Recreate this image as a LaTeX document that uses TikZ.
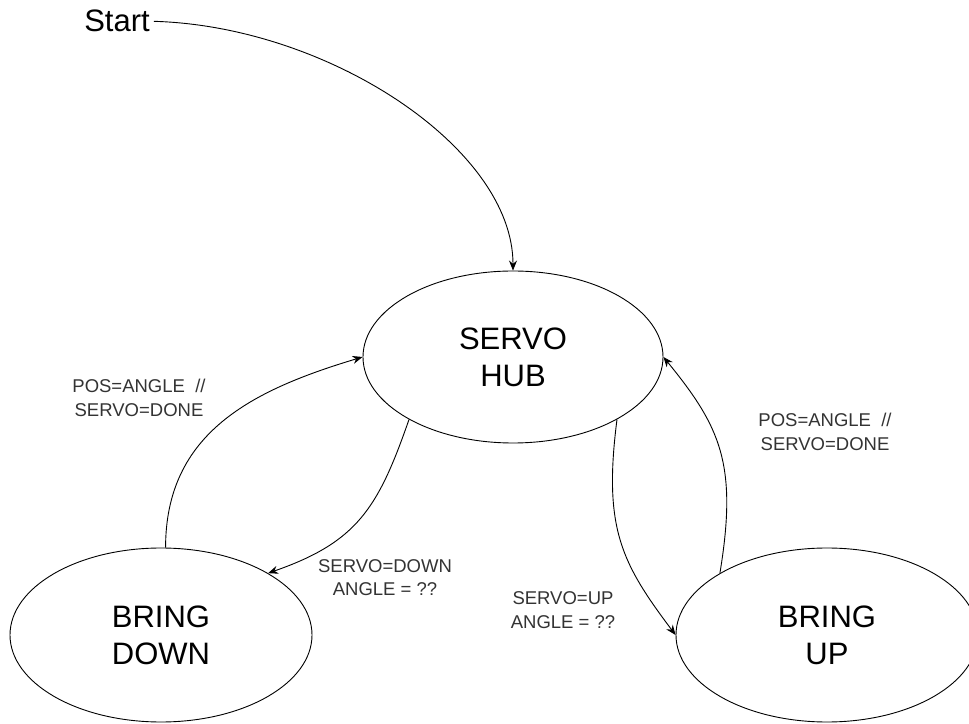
\documentclass[tikz,border=0pt]{standalone}
\usepackage{fontspec}
\setmainfont{Liberation Sans}
\usetikzlibrary{arrows.meta,shapes.geometric}
\begin{document}
\begin{tikzpicture}[x=1pt,y=1pt,
  state/.style={draw, line width=0.9pt, ellipse, minimum width=300pt,
    minimum height=172pt, inner sep=0pt, align=center,
    font=\fontsize{31}{37}\selectfont},
  lbl/.style={align=center, inner sep=0pt, text=black!80,
    font=\fontsize{18.5}{23.5}\selectfont},
  flow/.style={line width=0.9pt, -{Stealth[length=10pt,width=8pt]}}]
\useasboundingbox (0,0) rectangle (969,723);

% states
\node[state] (hub) at (513,366) {SERVO\\HUB};
\node[state, minimum width=302pt, minimum height=174pt] (down) at (161,88) {BRING\\DOWN};
\node[state, minimum width=302pt, minimum height=174pt] (up) at (827,88) {BRING\\UP};

% entry point
\node[anchor=base, inner sep=4pt, font=\fontsize{31}{37}\selectfont] (start) at (117,691) {Start};

% transition labels
\node[lbl] (lblL) at (139,325) {POS=ANGLE\ \ //\\SERVO=DONE};
\node[lbl] (lblR) at (825,291) {POS=ANGLE\ \ //\\SERVO=DONE};
\node[lbl] (lblD) at (385,145.5) {SERVO=DOWN\\ANGLE = ??};
\node[lbl] (lblU) at (563,113) {SERVO=UP\\ANGLE = ??};

% transitions
\draw[flow] (start.east) .. controls +(175,-5) and +(0,122) .. (hub.north);
\draw[flow] (hub.211) .. controls +(-31,-89) and +(89,31) .. (down.30);
\draw[flow] (down.87) .. controls +(0,115) and +(-110,-33) .. (hub.west);
\draw[flow] (hub.329) .. controls +(-14,-109) and +(-54,72) .. (up.west);
\draw[flow] (up.150) .. controls +(18,109) and +(57,-70) .. (hub.east);
\end{tikzpicture}
\end{document}
